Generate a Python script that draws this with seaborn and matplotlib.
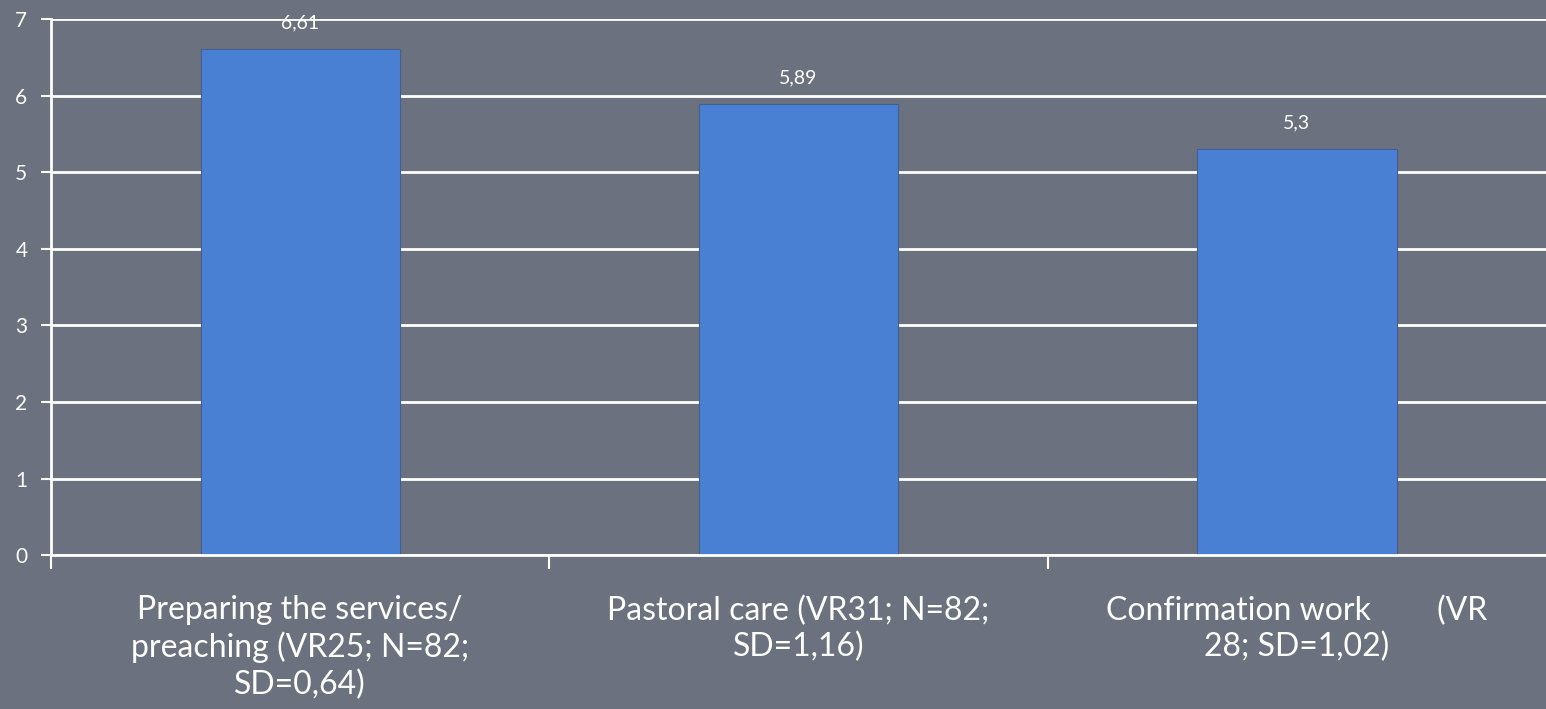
import matplotlib
matplotlib.use("Agg")
import matplotlib.pyplot as plt
import numpy as np
import pandas as pd
import seaborn as sns

categories = [
    "Preparing the services/\npreaching (VR25; N=82;\nSD=0,64)",
    "Pastoral care (VR31; N=82;\nSD=1,16)",
    "Confirmation work        (VR\n28; SD=1,02)",
]
means = [6.61, 5.89, 5.3]
value_labels = ["6,61", "5,89", "5,3"]
y_ticks = [0, 1, 2, 3, 4, 5, 6, 7]

bg = "#6b717e"
bar_color = "#4a80d4"

sns.set_style("white")
plt.rcParams["font.family"] = ["Lato", "DejaVu Sans"]

fig = plt.figure(figsize=(15.46, 7.09), dpi=100, facecolor=bg)
ax = fig.add_axes([0.033, 0.217, 0.967, 0.756])
ax.set_facecolor(bg)

df = pd.DataFrame({"category": categories, "mean": means})
sns.barplot(data=df, x="category", y="mean", color=bar_color, width=0.4,
            saturation=1, edgecolor="#3f5f95", linewidth=0.8, ax=ax, zorder=3)

# gridlines
ax.set_ylim(0, 7)
ax.set_yticks(y_ticks)
ax.yaxis.grid(True, color="white", linewidth=2)
ax.set_axisbelow(True)
ax.set_xlim(-0.5, 2.5)

ax.bar_label(ax.containers[0], labels=value_labels, padding=13,
             color="white", fontsize=14)

# spines
for side in ["top", "right"]:
    ax.spines[side].set_visible(False)
for side in ["left", "bottom"]:
    ax.spines[side].set_color("white")
    ax.spines[side].set_linewidth(2)
    ax.spines[side].set_zorder(4)

ax.tick_params(axis="y", colors="white", labelsize=15, length=7, width=1.5,
               left=True, pad=10)
ax.tick_params(axis="x", which="major", length=0, labelsize=23,
               colors="white", pad=29)
for lbl in ax.get_xticklabels():
    lbl.set_linespacing(1.25)
ax.set_xticks(np.arange(-0.5, 2.5, 1.0), minor=True)
ax.tick_params(axis="x", which="minor", length=10, width=1.5, color="white",
               bottom=True)
ax.set_xlabel("")
ax.set_ylabel("")

fig.savefig("out.png", dpi=100, facecolor=bg)
